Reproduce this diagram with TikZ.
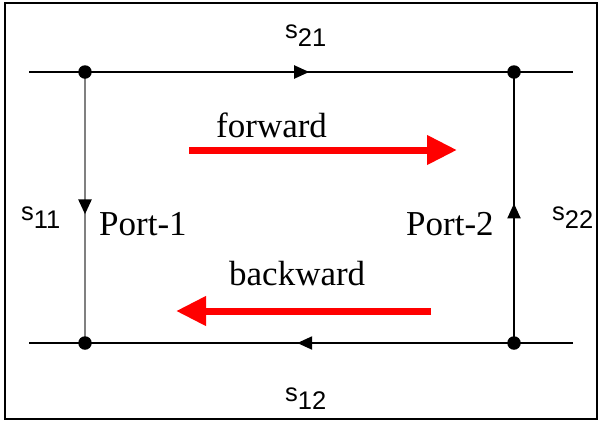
\documentclass[tikz,border=0pt]{standalone}
\usepackage{fontspec}
\setmainfont{Liberation Serif}
\setsansfont{Liberation Sans}
\usetikzlibrary{arrows.meta,decorations.markings}
\tikzset{
  wire/.style={line width=2.2pt, draw=black},
  graywire/.style={line width=2.8pt, draw=black!50},
  dot/.style={circle, fill=black, inner sep=0pt, minimum size=13.5pt},
  midarrow/.style={postaction={decorate, decoration={markings,
     mark=at position #1 with {\arrow[black]{Triangle[length=15pt,width=13pt]}}}}},
  bigarrow/.style={draw=red, line width=7pt, -{Triangle[length=30pt,width=28pt]}},
  lbl/.style={font=\fontsize{35}{40}\selectfont, inner sep=0pt, anchor=base west},
  slbl/.style={font=\sffamily\fontsize{25.5}{30}\selectfont, inner sep=0pt, anchor=base west},
}
\newcommand\sparam[1]{s\raisebox{-8pt}{#1}}
\begin{document}
\begin{tikzpicture}[x=1pt,y=-1pt]
\useasboundingbox (0,0) rectangle (599,421);
\draw[line width=2pt] (5,3) rectangle (597,419);
% coordinates
\coordinate (a) at (85,72);
\coordinate (b) at (514,72);
\coordinate (c) at (85,343);
\coordinate (d) at (514,343);
\coordinate (tl) at (29,72);
\coordinate (tr) at (573,72);
\coordinate (bl) at (29,343);
\coordinate (br) at (573,343);
% lines
\draw[wire, midarrow=0.515] (tl) -- (tr);
\draw[wire, midarrow=0.507] (br) -- (bl);
\draw[graywire, midarrow=0.525] (a) -- (c);
\draw[wire, midarrow=0.515] (d) -- (b);
% dots
\node[dot] (p1t) at (a) {};
\node[dot] (p2t) at (b) {};
\node[dot] (p1b) at (c) {};
\node[dot] (p2b) at (d) {};
% red arrows
\coordinate (fs) at (189,150);
\coordinate (fe) at (457,150);
\coordinate (bs) at (431,311);
\coordinate (be) at (176,311);
\draw[bigarrow] (fs) -- (fe);
\draw[bigarrow] (bs) -- (be);
% labels
\node[lbl] (fw) at (216,137) {forward};
\node[lbl] (bw) at (229,285) {backward};
\node[lbl] (port1) at (99,235) {Port-1};
\node[lbl] (port2) at (406,235) {Port-2};
\node[slbl] (s21) at (285,38) {\sparam{21}};
\node[slbl] (s12) at (285,401) {\sparam{12}};
\node[slbl] (s11) at (21,220) {\sparam{11}};
\node[slbl] (s22) at (552,220) {\sparam{22}};
\end{tikzpicture}
\end{document}
